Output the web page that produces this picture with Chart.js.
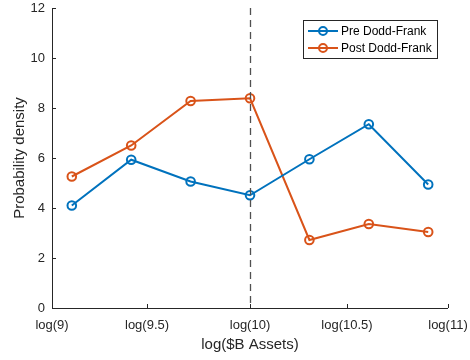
<!DOCTYPE html>
<html>
<head>
<meta charset="utf-8">
<script src="https://cdn.jsdelivr.net/npm/chart.js@4"></script>
<style>
  html, body { margin: 0; padding: 0; background: #fff; }
  #wrap { width: 470px; height: 360px; }
</style>
</head>
<body>
<div id="wrap"><canvas id="c" width="470" height="360"></canvas></div>
<script>
// bin centres, log scale
const xValues = [9.1, 9.4, 9.7, 10.0, 10.3, 10.6, 10.9];
const preDoddFrank = [4.10, 5.93, 5.06, 4.51, 5.95, 7.35, 4.94];
const postDoddFrank = [5.26, 6.50, 8.28, 8.39, 2.72, 3.36, 3.04];
const xTickValues = [9, 9.48, 10, 10.49, 11];
const xTickLabels = ['log(9)', 'log(9.5)', 'log(10)', 'log(10.5)', 'log(11)'];
const yTicks = [0, 2, 4, 6, 8, 10, 12];
const seriesNames = ['Pre Dodd-Frank', 'Post Dodd-Frank'];
const dividerX = 10;

const BLUE = '#0072BD', ORANGE = '#D95319', AX = '#262626';
const FONT = 'Liberation Sans, Arial, sans-serif';

const toPoints = ys => ys.map((y, i) => ({ x: xValues[i], y: y }));

// inward ticks, divider line and the boxed legend
const extras = {
  id: 'extras',
  afterDatasetsDraw(chart) {
    const ctx = chart.ctx, a = chart.chartArea;
    const xs = chart.scales.x;
    ctx.save();
    const dx = Math.round(xs.getPixelForValue(dividerX)) + 0.5;
    ctx.strokeStyle = '#505050';
    ctx.lineWidth = 1.3;
    ctx.setLineDash([7, 5]);
    ctx.beginPath();
    ctx.moveTo(dx, a.top);
    ctx.lineTo(dx, a.bottom);
    ctx.stroke();
    ctx.setLineDash([]);
    ctx.restore();
  },
  afterDraw(chart) {
    const ctx = chart.ctx, a = chart.chartArea;
    const xs = chart.scales.x, ys = chart.scales.y;
    ctx.save();
    ctx.strokeStyle = AX;
    ctx.lineWidth = 1;
    ctx.beginPath();
    ctx.moveTo(a.left + 0.5, a.top);
    ctx.lineTo(a.left + 0.5, a.bottom + 0.5);
    ctx.lineTo(a.right, a.bottom + 0.5);
    xTickValues.forEach(v => {
      const px = Math.round(xs.getPixelForValue(v)) + 0.5;
      ctx.moveTo(px, a.bottom);
      ctx.lineTo(px, a.bottom - 4);
    });
    yTicks.forEach(v => {
      const py = Math.round(ys.getPixelForValue(v)) + 0.5;
      ctx.moveTo(a.left, py);
      ctx.lineTo(a.left + 4, py);
    });
    ctx.stroke();

    // legend
    const lx = 303, ly = 20, lw = 134, lh = 38;
    ctx.fillStyle = '#fff';
    ctx.fillRect(lx, ly, lw, lh);
    ctx.strokeStyle = AX;
    ctx.strokeRect(lx + 0.5, ly + 0.5, lw, lh);
    ctx.font = '12px ' + FONT;
    ctx.textBaseline = 'middle';
    chart.data.datasets.forEach((ds, i) => {
      const cy = ly + 11 + i * 17;
      ctx.strokeStyle = ds.borderColor;
      ctx.lineWidth = 2;
      ctx.beginPath();
      ctx.moveTo(lx + 5, cy);
      ctx.lineTo(lx + 35, cy);
      ctx.stroke();
      ctx.beginPath();
      ctx.arc(lx + 20, cy, 4, 0, Math.PI * 2);
      ctx.stroke();
      ctx.fillStyle = '#000';
      ctx.fillText(ds.label, lx + 38, cy + 0.5);
    });
    ctx.restore();
  }
};

const mkSet = (label, ys, color) => ({
  label: label,
  data: toPoints(ys),
  borderColor: color,
  backgroundColor: color,
  borderWidth: 2,
  pointRadius: 4.3,
  pointBorderWidth: 2,
  pointBackgroundColor: 'rgba(0,0,0,0)',
  pointBorderColor: color,
  tension: 0
});

new Chart(document.getElementById('c'), {
  type: 'line',
  data: {
    datasets: [
      mkSet(seriesNames[0], preDoddFrank, BLUE),
      mkSet(seriesNames[1], postDoddFrank, ORANGE)
    ]
  },
  options: {
    responsive: false,
    animation: false,
    events: [],
    layout: { padding: { top: 8, right: 22, left: 0, bottom: 0 } },
    plugins: { legend: { display: false }, tooltip: { enabled: false } },
    scales: {
      x: {
        type: 'linear',
        min: 9, max: 11,
        afterBuildTicks: s => { s.ticks = xTickValues.map(v => ({ value: v })); },
        afterFit: s => { s.height = 52; s.paddingLeft = 0; s.paddingRight = 0; },
        grid: { display: false, drawTicks: false },
        border: { display: false },
        ticks: {
          autoSkip: false,
          maxRotation: 0,
          padding: 10,
          color: AX,
          font: { family: FONT, size: 13 },
          callback: (v) => xTickLabels[xTickValues.indexOf(v)]
        },
        title: {
          display: true,
          text: 'log($B Assets)',
          color: AX,
          font: { family: FONT, size: 15 },
          padding: { top: 2, bottom: 6 }
        }
      },
      y: {
        min: 0, max: 12,
        afterBuildTicks: s => { s.ticks = yTicks.map(v => ({ value: v })); },
        afterFit: s => { s.width = 52; s.paddingTop = 0; s.paddingBottom = 0; },
        grid: { display: false, drawTicks: false },
        border: { display: false },
        ticks: {
          padding: 7,
          color: AX,
          font: { family: FONT, size: 13 }
        },
        title: {
          display: true,
          text: 'Probability density',
          color: AX,
          font: { family: FONT, size: 15 },
          padding: { top: 11, bottom: 4 }
        }
      }
    }
  },
  plugins: [extras]
});
</script>
</body>
</html>
